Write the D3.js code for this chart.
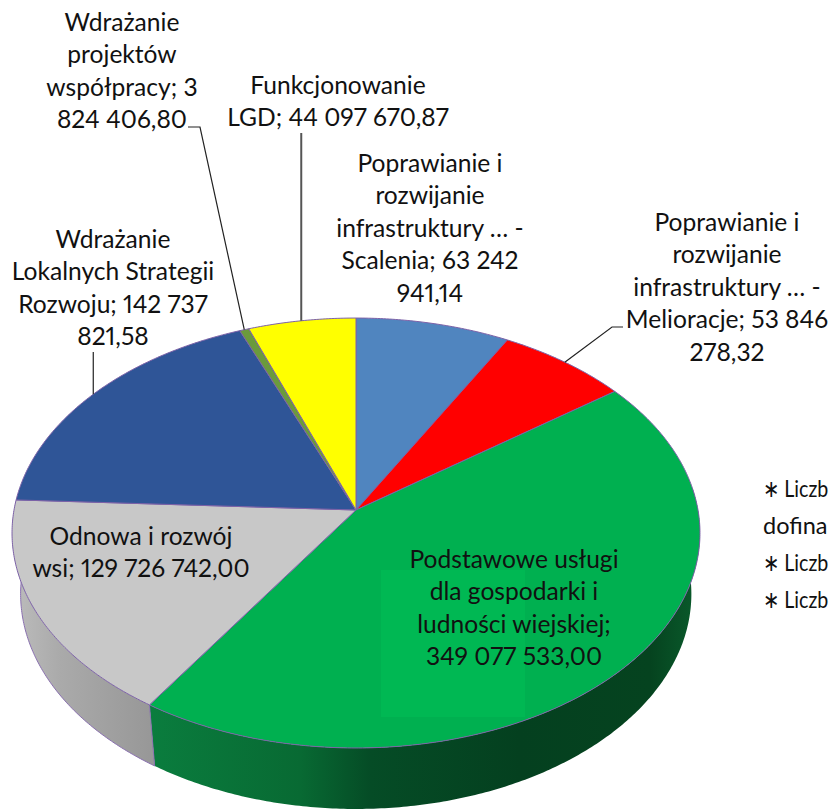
<!DOCTYPE html>
<html><head><meta charset="utf-8">
<script src="https://cdnjs.cloudflare.com/ajax/libs/d3/7.8.5/d3.min.js"></script>
<style>html,body{margin:0;padding:0;background:#fff;overflow:hidden}svg{display:block}text{font-family:Lato,"Open Sans",sans-serif;font-size:24.6px;fill:#111;text-anchor:middle;font-variant-numeric:proportional-nums}</style>
</head><body><svg id="c" width="829" height="810"></svg>
<script>
const categories=["Scalenia","Melioracje","Podstawowe usługi","Odnowa i rozwój wsi","Wdrażanie LSR","Wdrażanie projektów współpracy","Funkcjonowanie LGD"];
const values=[63242941.14,53846278.32,349077533.00,129726742.00,142737821.58,3824406.80,44097670.87];
const colors=["#5085bf","#ff0000","#00b050","#c8c8c8","#2f5597","#6b9a3c","#ffff00"];
const labelLines=[
 ["Poprawianie i","rozwijanie","infrastruktury … -","Scalenia; 63 242","941,14"],
 ["Poprawianie i","rozwijanie","infrastruktury … -","Melioracje; 53 846","278,32"],
 ["Podstawowe usługi","dla gospodarki i","ludności wiejskiej;","349 077 533,00"],
 ["Odnowa i rozwój","wsi; 129 726 742,00"],
 ["Wdrażanie","Lokalnych Strategii","Rozwoju; 142 737","821,58"],
 ["Wdrażanie","projektów","współpracy; 3","824 406,80"],
 ["Funkcjonowanie","LGD; 44 097 670,87"]];
const labelCx=[430,727,514,141,113,122,338];
const labelTop=[172,231,568,545,248,31,94];
const sideNotes=["∗ Liczb","dofina","∗ Liczb","∗ Liczb"];

const svg=d3.select("#c");
const cx=356,cy=510,R=342,K=212.5,P=-0.107,depth=61,shrink=0.975;
const proj=(a,r=1)=>{const u=r*Math.sin(a),v=-r*Math.cos(a),d=1+P*v;return [cx+R*u/d,cy+K*v/d];};
const low=(a)=>{const [x,y]=proj(a);return [cx+(x-cx)*shrink,y+depth];};
const arcs=d3.pie().sort(null).value(d=>d)(values);
const line=d3.line();
const samples=(a0,a1)=>{const n=Math.max(2,Math.ceil((a1-a0)/0.01));return d3.range(n+1).map(i=>a0+(a1-a0)*i/n);};

const defs=svg.append("defs");
function grad(id,stops){const g=defs.append("linearGradient").attr("id",id).attr("gradientUnits","userSpaceOnUse").attr("x1",stops[0][0]).attr("x2",stops[stops.length-1][0]).attr("y1",0).attr("y2",0);
 const x0=stops[0][0],x1=stops[stops.length-1][0];
 stops.forEach(s=>g.append("stop").attr("offset",(s[0]-x0)/(x1-x0)).attr("stop-color",s[1]));}
grad("gSide",[[148,"#0a7d3e"],[300,"#086a33"],[370,"#054c26"],[520,"#04401f"],[650,"#05431f"],[699,"#0a5c2c"]]);
grad("aSide",[[12,"#bdbdbd"],[60,"#aaaaaa"],[150,"#989898"]]);

const rad=Math.PI/180;
const sides=[{a0:arcs[2].startAngle,a1:arcs[2].endAngle,fill:"url(#gSide)"},{a0:arcs[3].startAngle,a1:arcs[3].endAngle,fill:"url(#aSide)"}];
sides.forEach(s=>{
 const a0=Math.max(s.a0,84*rad),a1=Math.min(s.a1,276*rad);
 const t=samples(a0,a1);
 const pts=t.map(a=>proj(a)).concat(t.slice().reverse().map(a=>low(a)));
 svg.append("path").attr("d",line(pts)+"Z").attr("fill",s.fill);
});
svg.append("path").attr("d",line(samples(arcs[2].endAngle,276*rad).map(low))).attr("fill","none").attr("stroke","#8a70b0").attr("stroke-width",1);
svg.append("path").attr("d",line([proj(arcs[2].endAngle),low(arcs[2].endAngle)])).attr("fill","none").attr("stroke","#8a70b0").attr("stroke-width",1);

svg.selectAll("path.top").data(arcs).join("path").attr("class","top")
 .attr("d",d=>line([[cx,cy]].concat(samples(d.startAngle,d.endAngle).map(a=>proj(a))))+"Z")
 .attr("fill",(d,i)=>colors[i]).attr("stroke","#7d62a8").attr("stroke-width",1).attr("stroke-linejoin","round");

svg.append("rect").attr("x",381).attr("y",570).attr("width",144).attr("height",147).attr("fill","#00b853");

const leaders=[
 {i:1,f:0.5,pts:[[612,327],[623,327]],c:"#222"},
 {i:4,f:0.499,pts:p=>[[p[0],352]],c:"#222"},
 {i:5,f:0.5,pts:[[200,127],[188,127]],c:"#222"},
 {i:6,f:0.495,pts:p=>[[p[0],133]],c:"#555"}];
leaders.forEach(l=>{
 const d=arcs[l.i];
 const p=proj(d.startAngle+(d.endAngle-d.startAngle)*l.f);
 const rest=typeof l.pts==="function"?l.pts(p):l.pts;
 svg.append("path").attr("d",line([p].concat(rest))).attr("fill","none").attr("stroke",l.c).attr("stroke-width",l.i===6?2:1.2);
});

const lh=32.4;
labelLines.forEach((ls,i)=>{
 svg.append("text").selectAll("tspan").data(ls).join("tspan").attr("x",labelCx[i]).attr("y",(d,j)=>labelTop[i]+j*lh).text(d=>d);
});
const noteY=[497,534,571,608];
svg.selectAll("text.note").data(sideNotes).join("text").attr("class","note")
 .attr("transform",(d,i)=>`translate(763,${noteY[i]}) scale(${i===1?1:0.82},1)`)
 .style("text-anchor","start").style("font-size",(d,i)=>i===1?"23.5px":"24px").text(d=>d);
</script></body></html>
